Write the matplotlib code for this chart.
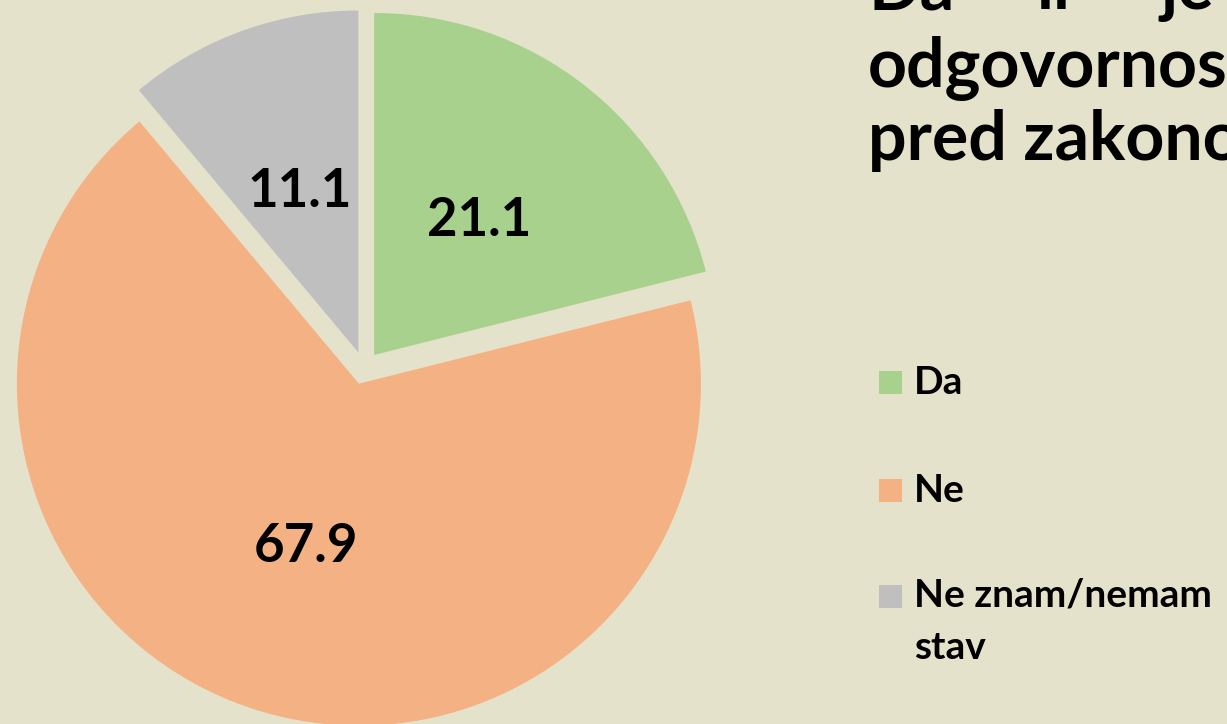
import matplotlib
matplotlib.use("Agg")
from matplotlib import pyplot as plt
from matplotlib.patches import Rectangle

# data
categories = ["Da", "Ne", "Ne znam/nemam\nstav"]
values = [21.1, 67.9, 11.1]
colors = ["#A9D18E", "#F4B183", "#BFBFBF"]
title_lines = ["odgovornost", "pred zakonom"]
title_first = ["Da", "li", "je"]

BG = "#E5E2CB"
W, H = 1227, 724

plt.rcParams['font.family'] = ['Lato', 'DejaVu Sans']

fig = plt.figure(figsize=(W / 100, H / 100), dpi=100, facecolor=BG)
ax = fig.add_axes([0, 0, 1, 1])
ax.set_facecolor(BG)

# pie, exploded slices, clockwise from the top (explode is in data units here)
wedges, texts = ax.pie(
    values,
    labels=[f"{v:.1f}" for v in values],
    colors=colors,
    startangle=90,
    counterclock=False,
    explode=[16.5] * len(values),
    radius=342,
    center=(364, H - 368),
    labeldistance=0.5,
    frame=True,
)
ax.set_xlim(0, W)
ax.set_ylim(0, H)
ax.set_aspect('equal')
ax.axis('off')
for t in texts:
    t.set_ha('center')
    t.set_va('center')
    t.set_fontsize(38)
    t.set_fontweight('bold')
    t.set_color('black')

# title (cut off by the right / top edge like the slide)
for word, x in zip(title_first, [868, 1037, 1160]):
    ax.text(x, H - 9, word, fontsize=49, fontweight='bold', va='baseline', ha='left')
for i, line in enumerate(title_lines):
    ax.text(868, H - 87 - i * 73, line, fontsize=49, fontweight='bold', va='baseline', ha='left')

# legend drawn by hand to match spacing
legend_y = [382, 490, 596]
for cat, col, y in zip(categories, colors, legend_y):
    ax.add_patch(Rectangle((879, H - y - 12), 23, 23, facecolor=col, edgecolor='none'))
    multi = '\n' in cat
    ax.text(914, H - y + (18 if multi else 0), cat, fontsize=28, fontweight='bold',
            va='top' if multi else 'center', ha='left', linespacing=1.6)

fig.savefig("out.png", dpi=100, facecolor=BG)
